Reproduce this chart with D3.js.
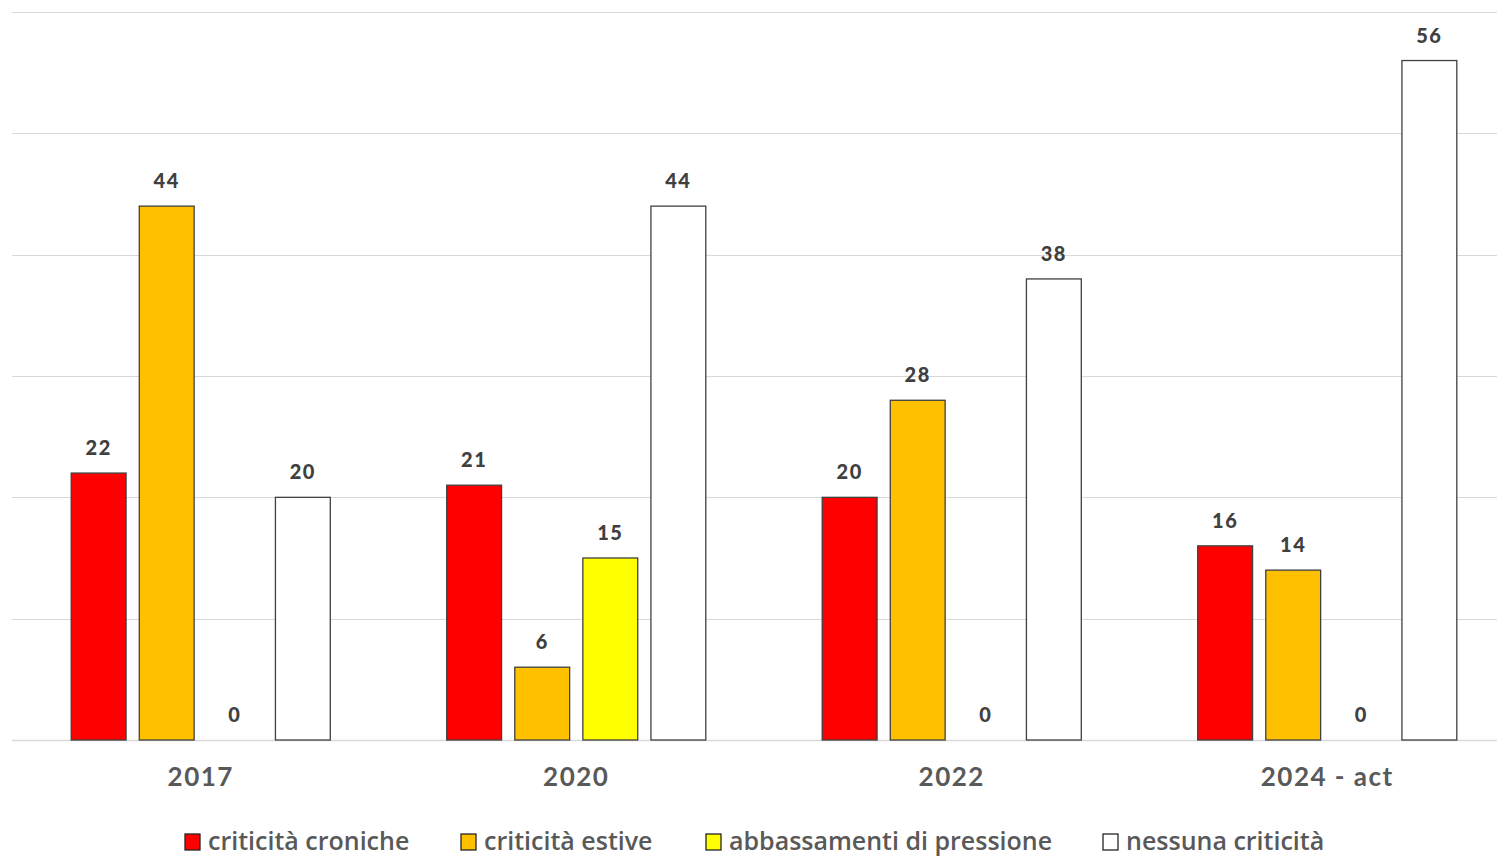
<!DOCTYPE html>
<html>
<head>
<meta charset="utf-8">
<script src="https://cdn.jsdelivr.net/npm/d3@7"></script>
<style>
  body { margin: 0; background: #fff; }
  svg { display: block; }
</style>
</head>
<body>
<div class="canvas"></div>
<script>
const w = 1497;
const h = 856;

// data
const years = ["2017", "2020", "2022", "2024 - act"];
const seriesNames = ["criticità croniche", "criticità estive", "abbassamenti di pressione", "nessuna criticità"];
const cronicheValues = [22, 21, 20, 16];
const estiveValues = [44, 6, 28, 14];
const pressioneValues = [0, 15, 0, 0];
const nessunaValues = [20, 44, 38, 56];
const yTicks = [0, 10, 20, 30, 40, 50, 60];
const colors = ["#ff0000", "#ffc000", "#ffff00", "#ffffff"];

const allSeries = [cronicheValues, estiveValues, pressioneValues, nessunaValues];
const rows = years.map((y, i) => ({ year: y, values: allSeries.map((s) => s[i]) }));

const svg = d3.select(".canvas").append("svg").attr("width", w).attr("height", h);

// scales
const x0 = d3.scaleBand().domain(years).range([13, 1515]).paddingInner(0.31).paddingOuter(0.155);
const x1 = d3.scaleBand().domain(d3.range(4)).range([0, x0.bandwidth()]).paddingInner(0.194);
const y = d3.scaleLinear().domain([0, 60]).range([740, 12]);

// gridlines
svg
  .append("g")
  .selectAll("line")
  .data(yTicks)
  .enter()
  .append("line")
  .attr("x1", 12)
  .attr("x2", w)
  .attr("y1", (d) => Math.round(y(d)) + 0.5)
  .attr("y2", (d) => Math.round(y(d)) + 0.5)
  .attr("stroke", "#d9d9d9")
  .attr("stroke-width", (d) => (d === 0 ? 1.5 : 1));

// bars
const groups = svg
  .selectAll(".group")
  .data(rows)
  .enter()
  .append("g")
  .attr("class", "group")
  .attr("transform", (d) => `translate(${x0(d.year)},0)`);

groups
  .selectAll("rect")
  .data((d) => d.values.map((v, i) => ({ v, i })).filter((d) => d.v > 0))
  .enter()
  .append("rect")
  .attr("x", (d) => x1(d.i))
  .attr("y", (d) => y(d.v))
  .attr("width", x1.bandwidth())
  .attr("height", (d) => y(0) - y(d.v))
  .attr("fill", (d) => colors[d.i])
  .attr("stroke", "#404040")
  .attr("stroke-width", 1.3);

// value labels
groups
  .selectAll("text")
  .data((d) => d.values.map((v, i) => ({ v, i })))
  .enter()
  .append("text")
  .attr("x", (d) => x1(d.i) + x1.bandwidth() / 2)
  .attr("y", (d) => y(d.v) - 18)
  .attr("text-anchor", "middle")
  .style("font-family", "Lato, sans-serif")
  .style("font-weight", "900")
  .style("font-size", "20px")
  .style("letter-spacing", "1.5px")
  .attr("fill", "#404040")
  .text((d) => d.v);

// x axis
const xAxis = d3.axisBottom(x0).tickSize(0).tickPadding(0);
const gx = svg.append("g").attr("transform", "translate(0, 786)").call(xAxis);
gx.select(".domain").remove();
gx.selectAll("text")
  .attr("dy", 0)
  .style("font-family", "Lato, sans-serif")
  .style("font-weight", "bold")
  .style("font-size", "26px")
  .style("letter-spacing", "1.5px")
  .attr("fill", "#595959");

// legend
const legendX = [185, 461, 706, 1103];
const legend = svg
  .append("g")
  .selectAll("g")
  .data(seriesNames)
  .enter()
  .append("g")
  .attr("transform", (d, i) => `translate(${legendX[i]}, 834)`);

legend
  .append("rect")
  .attr("width", 15)
  .attr("height", 16)
  .attr("fill", (d, i) => colors[i])
  .attr("stroke", "#262626")
  .attr("stroke-width", 1.3);

legend
  .append("text")
  .attr("x", 23)
  .attr("y", 16)
  .style("font-family", "'Open Sans', sans-serif")
  .style("font-weight", "600")
  .style("font-size", "25px")
  .attr("fill", "#595959")
  .text((d) => d);
</script>
</body>
</html>
